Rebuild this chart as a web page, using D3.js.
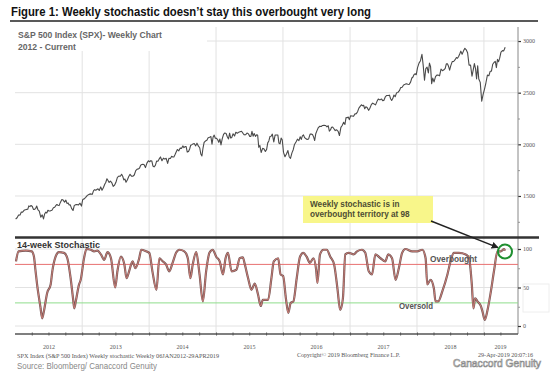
<!DOCTYPE html>
<html><head><meta charset="utf-8">
<script src="https://cdn.jsdelivr.net/npm/d3@7"></script>
<style>body{margin:0;background:#fff}svg{display:block}</style>
</head><body>
<svg id="chart" width="550" height="377"></svg>
<script>
// ---------------- DATA ----------------
const titleText = "Figure 1: Weekly stochastic doesn\u2019t stay this overbought very long";
const chartTitle = ["S&P 500 Index (SPX)- Weekly Chart", "2012 - Current"];
const priceStartYear = 2012;
// weekly closes, grouped by month starting Jan 2012
const weeklyCloses = [
 [1277,1289,1315,1316],[1344,1343,1361,1366],[1370,1371,1404,1397,1408],[1398,1370,1370,1378,1403],
 [1369,1353,1295,1317],[1278,1325,1343,1335,1362],[1354,1356,1362,1386],[1391,1406,1418,1411,1407],
 [1438,1466,1460,1441],[1460,1428,1433,1412,1414],[1380,1359,1409,1416],[1418,1413,1430,1402],
 [1466,1472,1486,1503],[1513,1518,1520,1516],[1552,1561,1556,1563,1569],[1553,1588,1555,1582],
 [1614,1633,1667,1650,1631],[1643,1626,1593,1606],[1632,1680,1692,1691],[1710,1691,1656,1664,1633],
 [1655,1688,1710,1692],[1691,1703,1745,1760],[1762,1771,1798,1804,1806],[1805,1775,1818,1841],
 [1831,1842,1838,1790,1782],[1797,1838,1836,1859],[1878,1841,1866,1857],[1865,1815,1864,1863],
 [1884,1878,1878,1900,1924],[1950,1937,1963,1961],[1985,1968,1978,1978,1925],[1931,1955,1992,1997,2003],
 [2008,1985,2011,1982],[1967,1906,1887,1964,2018],[2032,2039,2064,2068],[2075,2002,2071,2089,2059],
 [2058,2044,2019,2052,1995],[2055,2096,2110,2105],[2071,2053,2108,2061,2067],[2102,2081,2117,2108],
 [2116,2122,2127,2107],[2092,2094,2110,2101],[2077,2076,2126,2079,2104],[2077,2092,2091,1971,1989],
 [1921,1961,1958,1931],[1951,2014,2033,2075,2079],[2099,2023,2089,2090],[2091,2012,2005,2060,2044],
 [1922,1880,1907,1940],[1880,1864,1917,1948],[1999,2022,2050,2036],[2073,2048,2082,2091,2065],
 [2057,2047,2052,2099],[2099,2096,2072,2037,2103],[2130,2162,2175,2173],[2183,2184,2183,2169],
 [2180,2128,2139,2165,2168],[2153,2133,2141,2126],[2085,2164,2182,2213],[2192,2259,2258,2264,2239],
 [2277,2275,2271,2295],[2297,2316,2351,2367],[2383,2373,2378,2344,2363],[2356,2329,2349,2384],
 [2399,2391,2382,2416],[2439,2432,2433,2438,2423],[2425,2459,2473,2472],[2476,2441,2425,2443,2477],
 [2461,2500,2502,2519],[2549,2553,2575,2581],[2587,2582,2579,2602],[2642,2652,2675,2683,2674],
 [2743,2786,2810,2872],[2762,2620,2732,2747],[2691,2786,2752,2588,2641],[2604,2656,2670,2670],
 [2663,2728,2713,2721],[2735,2779,2780,2755,2718],[2760,2801,2802,2819],[2840,2833,2850,2875,2902],
 [2872,2905,2930,2914],[2886,2767,2768,2659],[2723,2781,2736,2633,2760],[2633,2600,2417,2486],
 [2532,2596,2670,2664],[2707,2708,2775,2792],[2804,2743,2822,2800,2834],[2893,2907,2905,2940]
];
// 14-week stochastic [date, value]
const stochPoints = [["2012-01-06",84],["2012-01-20",97],["2012-02-28",98],["2012-04-01",97],["2012-04-13",90],["2012-04-20",75],["2012-04-30",54],["2012-05-18",25],["2012-05-28",10],["2012-06-06",19],["2012-06-24",43],["2012-07-13",54],["2012-07-22",71],["2012-08-09",90],["2012-08-27",96],["2012-09-24",95],["2012-10-12",88],["2012-10-30",62],["2012-11-12",36],["2012-11-19",23],["2012-11-27",32],["2012-12-15",54],["2012-12-24",60],["2013-01-11",88],["2013-01-24",100],["2013-02-17",99],["2013-03-07",97],["2013-03-25",98],["2013-04-13",93],["2013-05-01",86],["2013-05-19",96],["2013-06-07",88],["2013-06-30",50],["2013-07-12",71],["2013-07-31",90],["2013-08-19",80],["2013-08-31",62],["2013-09-15",72],["2013-10-03",84],["2013-10-18",75],["2013-11-08",88],["2013-11-19",99],["2013-12-16",97],["2014-01-02",95],["2014-01-19",71],["2014-02-10",47],["2014-02-26",88],["2014-03-16",84],["2014-04-03",80],["2014-04-21",71],["2014-05-09",82],["2014-05-28",95],["2014-06-15",99],["2014-07-12",97],["2014-07-31",88],["2014-08-14",62],["2014-08-27",80],["2014-09-15",96],["2014-10-03",67],["2014-10-21",32],["2014-11-08",71],["2014-11-26",95],["2014-12-14",99],["2015-01-02",90],["2015-01-21",84],["2015-02-08",67],["2015-02-22",88],["2015-03-07",95],["2015-03-27",71],["2015-04-22",73],["2015-05-10",88],["2015-05-27",89],["2015-06-07",80],["2015-06-25",62],["2015-07-13",47],["2015-07-31",55],["2015-08-18",41],["2015-09-02",26],["2015-09-13",34],["2015-09-24",34],["2015-10-12",34],["2015-10-30",62],["2015-11-12",84],["2015-12-06",88],["2015-12-19",67],["2016-01-02",65],["2016-01-17",36],["2016-01-30",17],["2016-02-12",30],["2016-02-27",32],["2016-03-16",62],["2016-04-03",90],["2016-04-21",95],["2016-05-09",90],["2016-05-27",82],["2016-06-15",88],["2016-06-30",73],["2016-07-07",56],["2016-07-21",93],["2016-08-09",99],["2016-08-27",99],["2016-09-15",90],["2016-10-06",80],["2016-10-24",49],["2016-11-08",21],["2016-11-23",36],["2016-12-06",93],["2016-12-24",95],["2017-01-21",93],["2017-02-08",97],["2017-03-07",99],["2017-03-25",95],["2017-04-13",71],["2017-05-01",67],["2017-05-19",93],["2017-06-16",88],["2017-07-12",84],["2017-07-28",93],["2017-08-18",88],["2017-09-06",60],["2017-09-24",75],["2017-10-12",95],["2017-10-30",100],["2017-12-06",97],["2018-01-02",97],["2018-01-30",99],["2018-02-17",88],["2018-02-26",54],["2018-03-16",60],["2018-04-03",49],["2018-04-12",32],["2018-04-27",32],["2018-05-19",45],["2018-06-16",67],["2018-07-03",84],["2018-07-21",95],["2018-08-18",95],["2018-09-24",93],["2018-10-12",88],["2018-10-27",54],["2018-11-05",23],["2018-11-14",36],["2018-11-27",32],["2018-12-15",26],["2018-12-24",19],["2019-01-06",8],["2019-01-21",21],["2019-02-08",45],["2019-02-26",73],["2019-03-16",97],["2019-04-03",97],["2019-04-21",100],["2019-04-26",98]];
const priceTicks = [1500, 2000, 2500, 3000];
const priceMinorTicks = [1250, 1750, 2250, 2750];
const stochTicks = [0, 50, 100];
const stochMinorTicks = [25, 75];
const years = [2012, 2013, 2014, 2015, 2016, 2017, 2018, 2019];
const overbought = 80, oversold = 30;
const calloutLines = ["Weekly stochastic is in", "overbought territory at 98"];
const calloutDate = "2019-04-26", calloutValue = 98;

// ---------------- DRAW ----------------
const svg = d3.select("#chart");
const parse = d3.timeParse("%Y-%m-%d");
const sans = "'Liberation Sans', Arial, sans-serif";
const serif = "'Liberation Serif', 'Times New Roman', serif";

const x = d3.scaleTime().domain([new Date(2012,0,6), new Date(2019,3,26)]).range([16, 505]);
const yP = d3.scaleLinear().domain([1100, 3100]).range([237.3, 30.7]);
const yS = d3.scaleLinear().domain([0, 100]).range([326, 249]);
const axisX = 518;

// title
svg.append("text").attr("x", 11).attr("y", 16).attr("font-family", sans).attr("font-weight", "bold")
  .attr("font-size", 12).attr("fill", "#111").attr("textLength", 360).attr("lengthAdjust", "spacingAndGlyphs")
  .text(titleText);
svg.append("line").attr("x1", 10).attr("x2", 538).attr("y1", 21).attr("y2", 21).attr("stroke", "#222").attr("stroke-width", 1.6);

// grid
const yearStarts = years.slice(1).map(y => new Date(y, 0, 1));
svg.append("g").selectAll("line").data(yearStarts).join("line")
  .attr("x1", d => x(d)).attr("x2", d => x(d)).attr("y1", 27).attr("y2", 334)
  .attr("stroke", "#e2e2e2").attr("stroke-width", 1);
svg.append("g").selectAll("line").data(priceTicks).join("line")
  .attr("x1", 15).attr("x2", axisX).attr("y1", d => yP(d)).attr("y2", d => yP(d))
  .attr("stroke", "#e2e2e2");
svg.append("g").selectAll("line").data(stochTicks).join("line")
  .attr("x1", 15).attr("x2", axisX).attr("y1", d => yS(d)).attr("y2", d => yS(d))
  .attr("stroke", "#e2e2e2");

// label box
svg.append("rect").attr("x", 14).attr("y", 27).attr("width", 193).attr("height", 24).attr("fill", "#fff");
chartTitle.forEach((t, i) => svg.append("text").attr("x", 18).attr("y", 38 + i * 11.5)
  .attr("font-family", sans).attr("font-weight", "bold").attr("font-size", 8.6).attr("fill", "#666").text(t));

// price line
const pricePts = [];
weeklyCloses.forEach((vals, mi) => {
  const yr = priceStartYear + Math.floor(mi / 12), m = mi % 12;
  const days = new Date(yr, m + 1, 0).getDate();
  vals.forEach((v, j) => pricePts.push({ d: new Date(yr, m, 1 + (j + 0.5) * days / vals.length), v }));
});
svg.append("path").datum(pricePts)
  .attr("d", d3.line().x(d => x(d.d)).y(d => yP(d.v)))
  .attr("fill", "none").attr("stroke", "#4a4a4a").attr("stroke-width", 1.1).attr("stroke-linejoin", "round");

// right price axis
const pAxis = svg.append("g").attr("transform", `translate(${axisX},0)`)
  .call(d3.axisRight(yP).tickValues(priceTicks).tickSize(3).tickPadding(2).tickFormat(d3.format("d")));
pAxis.select(".domain").remove();
pAxis.selectAll("line").attr("stroke", "#333").attr("stroke-width", 1.2);
pAxis.selectAll("text").attr("font-family", serif).attr("font-size", 6).attr("fill", "#555");
const pMinor = svg.append("g").attr("transform", `translate(${axisX},0)`)
  .call(d3.axisRight(yP).tickValues(priceMinorTicks).tickSize(2).tickFormat(""));
pMinor.select(".domain").remove();
pMinor.selectAll("line").attr("stroke", "#999");
svg.append("line").attr("x1", axisX).attr("x2", axisX).attr("y1", 27).attr("y2", 334).attr("stroke", "#888").attr("stroke-width", 1);

// separator
svg.append("line").attr("x1", 15).attr("x2", 539).attr("y1", 237.5).attr("y2", 237.5).attr("stroke", "#333").attr("stroke-width", 2.6);
svg.append("text").attr("x", 17).attr("y", 247.5).attr("font-family", sans).attr("font-weight", "bold")
  .attr("font-size", 9.4).attr("fill", "#333").attr("textLength", 83).attr("lengthAdjust", "spacingAndGlyphs").text("14-week Stochastic");

// overbought / oversold lines
svg.append("line").attr("x1", 15).attr("x2", axisX).attr("y1", yS(overbought)).attr("y2", yS(overbought))
  .attr("stroke", "#e87070").attr("stroke-width", 1);
svg.append("line").attr("x1", 15).attr("x2", axisX).attr("y1", yS(oversold)).attr("y2", yS(oversold))
  .attr("stroke", "#90dd8c").attr("stroke-width", 1);

// stochastic lines
const sData = stochPoints.map(([d, v]) => ({ d: parse(d), v }));
const sLine = d3.line().x(d => x(d.d)).y(d => yS(d.v)).curve(d3.curveMonotoneX);
svg.append("path").datum(sData).attr("d", sLine).attr("fill", "none").attr("stroke", "#735656").attr("stroke-width", 2.2);
svg.append("path").datum(sData).attr("d", sLine).attr("fill", "none").attr("stroke", "#e58a80").attr("stroke-width", 0.8);

// stochastic right axis
const sAxis = svg.append("g").attr("transform", `translate(${axisX},0)`)
  .call(d3.axisRight(yS).tickValues(stochTicks).tickSize(3).tickPadding(2).tickFormat(d3.format("d")));
sAxis.select(".domain").remove();
sAxis.selectAll("line").attr("stroke", "#333").attr("stroke-width", 1.2);
sAxis.selectAll("text").attr("font-family", serif).attr("font-size", 6).attr("fill", "#555");
const sMinor = svg.append("g").attr("transform", `translate(${axisX},0)`)
  .call(d3.axisRight(yS).tickValues(stochMinorTicks).tickSize(2).tickFormat(""));
sMinor.select(".domain").remove();
sMinor.selectAll("line").attr("stroke", "#999");

// bottom axis
svg.append("line").attr("x1", 15).attr("x2", axisX).attr("y1", 334).attr("y2", 334).attr("stroke", "#555").attr("stroke-width", 1.4);
const bAxis = svg.append("g").attr("transform", "translate(0,332.5)")
  .call(d3.axisBottom(x).ticks(d3.timeMonth.every(3)).tickSize(3).tickFormat(""));
bAxis.select(".domain").remove();
bAxis.selectAll("line").attr("stroke", "#555");
const domEnd = x.domain()[1];
svg.append("g").selectAll("text").data(years).join("text")
  .attr("x", d => {
    const a = new Date(d, 0, 1), b = new Date(d + 1, 0, 1);
    const s = x(a < x.domain()[0] ? x.domain()[0] : a), e = x(b > domEnd ? domEnd : b);
    return d === 2019 ? (s + e) / 2 + 6 : (s + e) / 2;
  })
  .attr("y", 349).attr("text-anchor", "middle").attr("font-family", serif).attr("font-size", 6).attr("fill", "#555").text(d => d);

// footer texts
svg.append("text").attr("x", 17).attr("y", 358).attr("font-family", serif).attr("font-size", 5.5).attr("fill", "#555")
  .attr("textLength", 202).attr("lengthAdjust", "spacingAndGlyphs")
  .text("SPX Index (S&P 500 Index) Weekly stochastic  Weekly 06JAN2012-29APR2019");
svg.append("text").attr("x", 297).attr("y", 357).attr("font-family", serif).attr("font-size", 5.5).attr("fill", "#555")
  .attr("textLength", 103).attr("lengthAdjust", "spacingAndGlyphs").text("Copyright\u00a9 2019 Bloomberg Finance L.P.");
svg.append("text").attr("x", 478).attr("y", 357).attr("font-family", serif).attr("font-size", 5.5).attr("fill", "#555")
  .attr("textLength", 55).attr("lengthAdjust", "spacingAndGlyphs").text("29-Apr-2019 20:07:16");
svg.append("text").attr("x", 17).attr("y", 369).attr("font-family", sans).attr("font-size", 8.3).attr("fill", "#888")
  .attr("textLength", 140).attr("lengthAdjust", "spacingAndGlyphs").text("Source: Bloomberg/ Canaccord Genuity");
svg.append("text").attr("x", 453).attr("y", 367).attr("font-family", sans).attr("font-size", 11).attr("fill", "#fff")
  .attr("stroke", "#8a8a8a").attr("stroke-width", 0.7).attr("textLength", 88).attr("lengthAdjust", "spacingAndGlyphs").text("Canaccord Genuity");

// labels in stochastic panel
svg.append("text").attr("x", 430).attr("y", 262).attr("font-family", sans).attr("font-weight", "bold").attr("font-size", 8.3)
  .attr("fill", "#555").attr("textLength", 47).attr("lengthAdjust", "spacingAndGlyphs").text("Overbought");
svg.append("text").attr("x", 399).attr("y", 309).attr("font-family", sans).attr("font-weight", "bold").attr("font-size", 8.3)
  .attr("fill", "#555").attr("textLength", 34).attr("lengthAdjust", "spacingAndGlyphs").text("Oversold");

// callout
svg.append("rect").attr("x", 303).attr("y", 196).attr("width", 130).attr("height", 27).attr("fill", "#f8f68a");
calloutLines.forEach((t, i) => svg.append("text").attr("x", 310).attr("y", 207 + i * 10.2)
  .attr("font-family", sans).attr("font-weight", "bold").attr("font-size", 8.2).attr("fill", "#4d4d33").text(t));
const cx = x(parse(calloutDate)), cy = yS(calloutValue) + 1;
svg.append("defs").append("marker").attr("id", "ah").attr("viewBox", "0 0 10 10").attr("refX", 9).attr("refY", 5)
  .attr("markerWidth", 5).attr("markerHeight", 5).attr("orient", "auto")
  .append("path").attr("d", "M0,0 L10,5 L0,10 z").attr("fill", "#222");
svg.append("line").attr("x1", 431).attr("y1", 221).attr("x2", cx - 7).attr("y2", cy - 4)
  .attr("stroke", "#222").attr("stroke-width", 1.4).attr("marker-end", "url(#ah)");
svg.append("circle").attr("cx", cx).attr("cy", cy).attr("r", 7).attr("fill", "none").attr("stroke", "#1f8f30").attr("stroke-width", 2);

// faint side decoration
svg.append("rect").attr("x", 523).attr("y", 284).attr("width", 26).attr("height", 28).attr("fill", "none").attr("stroke", "#eee");
</script>
</body></html>
